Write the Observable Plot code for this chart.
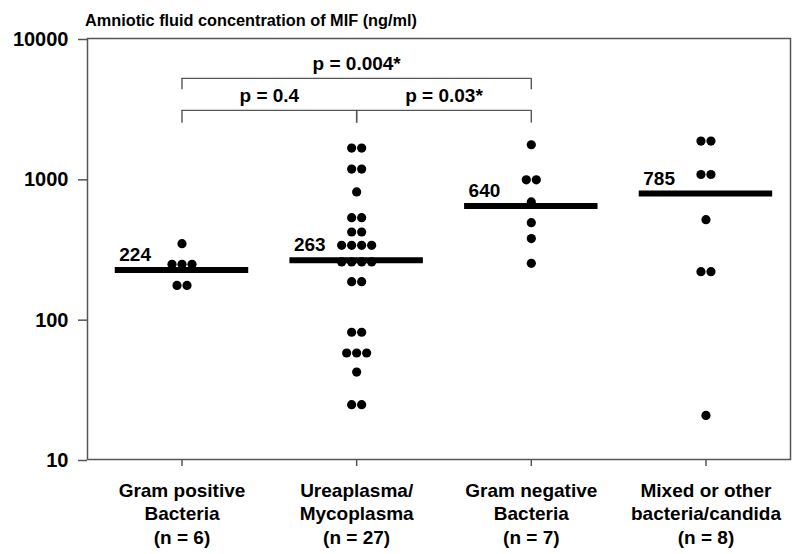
<!DOCTYPE html>
<html>
<head>
<meta charset="utf-8">
<script src="https://cdn.jsdelivr.net/npm/d3@7"></script>
<script src="https://cdn.jsdelivr.net/npm/@observablehq/plot@0.6"></script>
<style>
  html, body { margin: 0; padding: 0; background: #fff; }
  #wrap { width: 800px; height: 554px; font-family: "Liberation Sans", Arial, sans-serif; }
  #title { position: relative; z-index: 1; height: 20px; box-sizing: border-box; padding: 11px 0 0 85px; font-size: 16.3px; line-height: 18px; font-weight: bold; color: #000; white-space: nowrap; }
</style>
</head>
<body>
<div id="wrap">
  <div id="title">Amniotic fluid concentration of MIF (ng/ml)</div>
  <div id="chart"></div>
</div>
<script>
// Categories (x tick labels)
const groups = [
  "Gram positive\nBacteria\n(n = 6)",
  "Ureaplasma/\nMycoplasma\n(n = 27)",
  "Gram negative\nBacteria\n(n = 7)",
  "Mixed or other\nbacteria/candida\n(n = 8)"
];
// Individual MIF values (ng/ml)
const gramPositive = [345, 246, 246, 246, 174, 174];
const ureaMyco = [1656, 1656, 1173, 1173, 807, 529, 529, 418, 418, 336, 336, 336, 336,
                  256, 256, 256, 256, 185, 185, 80.7, 80.7, 57.4, 57.4, 57.4, 42, 24.6, 24.6];
const gramNegative = [1750, 984, 984, 685, 487, 375, 250];
const mixedOther = [1858, 1858, 1074, 1074, 512, 218, 218, 20.6];
// Medians
const medians = [224, 263, 640, 785];
// Pairwise comparisons
const compFrom = [0, 0, 1];
const compTo = [2, 1, 2];
const compLabels = ["p = 0.004*", "p = 0.4", "p = 0.03*"];
const compLevel = [5195, 3073, 3073];
const compFoot = [4315, 2494, 2494];
const yTicks = [10, 100, 1000, 10000];

const width = 800, height = 534;
const marginLeft = 87, marginRight = 10, marginTop = 18, marginBottom = 95;
const xDomain = [-0.541, 3.484];
const pxPerUnit = (width - marginLeft - marginRight) / (xDomain[1] - xDomain[0]);
const dotStep = 10 / pxPerUnit;
const halfLine = 0.382;

const series = [gramPositive, ureaMyco, gramNegative, mixedOther];
const dots = [];
series.forEach((vals, gi) => {
  const rows = d3.group(vals, v => v);
  for (const [v, arr] of rows) {
    const n = arr.length;
    arr.forEach((_, k) => dots.push({x: gi + (k - (n - 1) / 2) * dotStep, v}));
  }
});
const med = medians.map((m, i) => ({i, m}));
const comps = compFrom.map((f, i) => ({f, t: compTo[i], label: compLabels[i], level: compLevel[i], foot: compFoot[i]}));
const feet = comps.flatMap(c => [{x: c.f, y1: c.level, y2: c.foot}, {x: c.t, y1: c.level, y2: c.foot}]);

const gray = "#555";
const chart = Plot.plot({
  width, height, marginLeft, marginRight, marginTop, marginBottom,
  style: {fontFamily: "'Liberation Sans', Arial, sans-serif", fontSize: "19px", fontWeight: "bold", color: "#000", background: "transparent", overflow: "visible"},
  x: {domain: xDomain},
  y: {type: "log", domain: [10, 10000]},
  marks: [
    Plot.frame({stroke: gray, strokeWidth: 1.5}),
    Plot.axisY({ticks: yTicks, tickFormat: d => String(d), tickSize: 9, tickPadding: 10, fontSize: 20, dy: 1, stroke: gray, strokeWidth: 1.5, label: null}),
    Plot.axisX({ticks: [0, 1, 2, 3], tickFormat: i => groups[i], tickSize: 7, tickPadding: 13, fontSize: 19, lineHeight: 1.26, stroke: gray, strokeWidth: 1.5, label: null}),
    Plot.ruleY(med, {y: "m", x1: d => d.i - halfLine, x2: d => d.i + halfLine, stroke: "#000", strokeWidth: 6}),
    Plot.text(med, {x: d => d.i - halfLine, y: "m", text: d => String(d.m), textAnchor: "start", lineAnchor: "bottom", dx: 4, dy: -9, fontSize: 19, fontWeight: "bold", fill: "#000"}),
    Plot.dot(dots, {x: "x", y: "v", r: 4.6, fill: "#000", stroke: null}),
    Plot.ruleY(comps, {y: "level", x1: "f", x2: "t", stroke: gray, strokeWidth: 1.4}),
    Plot.ruleX(feet, {x: "x", y1: "y1", y2: "y2", stroke: gray, strokeWidth: 1.4}),
    Plot.text(comps, {x: d => (d.f + d.t) / 2, y: "level", text: "label", lineAnchor: "bottom", dy: -8, fontSize: 19, fontWeight: "bold", fill: "#000"})
  ]
});
document.getElementById("chart").appendChild(chart);
</script>
</body>
</html>
